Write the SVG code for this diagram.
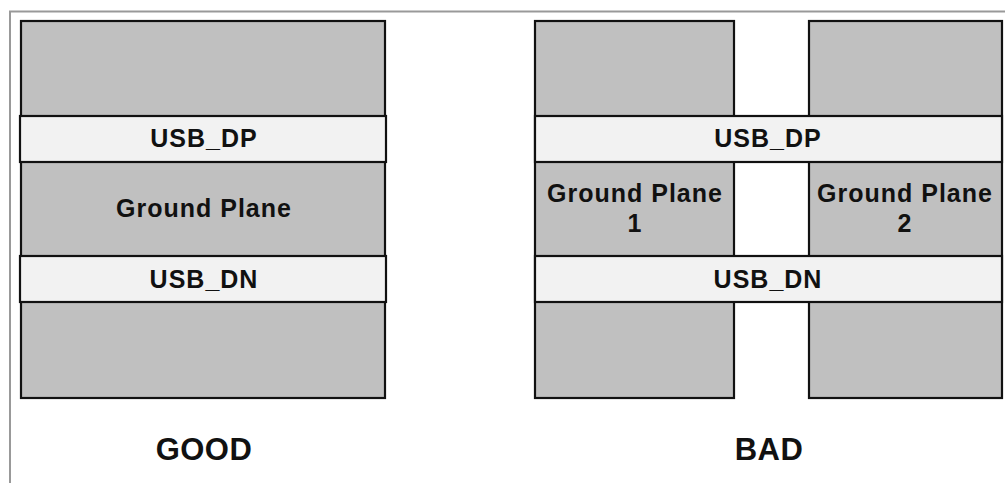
<svg xmlns="http://www.w3.org/2000/svg" width="1005" height="483" viewBox="0 0 1005 483">
<style>
.g{fill:#c0c0c0;stroke:#111;stroke-width:2.2}
.b{fill:#f2f2f2;stroke:#111;stroke-width:2.2}
.t{font-family:"Liberation Sans",Arial,sans-serif;font-weight:bold;font-size:25px;letter-spacing:1px;fill:#111;text-anchor:middle}
.h{font-family:"Liberation Sans",Arial,sans-serif;font-weight:bold;font-size:31px;letter-spacing:0.5px;fill:#111;text-anchor:middle}
</style>
<rect width="1005" height="483" fill="#fff"/>
<path d="M10 483 V11.5 H1005" fill="none" stroke="#999" stroke-width="2"/>
<g id="good">
<rect class="g" x="21" y="21" width="364" height="377"/>
<rect class="b" x="20" y="116" width="366" height="46"/>
<rect class="b" x="20" y="256" width="366" height="46"/>
<text class="t" x="204" y="147">USB_DP</text>
<text class="t" x="204" y="217">Ground Plane</text>
<text class="t" x="204" y="288">USB_DN</text>
<text class="h" x="204" y="460">GOOD</text>
</g>
<g id="bad">
<rect class="g" x="535" y="21" width="199" height="377"/>
<rect class="g" x="809" y="21" width="193" height="377"/>
<rect class="b" x="535" y="116" width="467" height="46"/>
<rect class="b" x="535" y="256" width="467" height="46"/>
<text class="t" x="768" y="147">USB_DP</text>
<text class="t" x="635" y="202">Ground Plane</text>
<text class="t" x="635" y="232">1</text>
<text class="t" x="905" y="202">Ground Plane</text>
<text class="t" x="905" y="232">2</text>
<text class="t" x="768" y="288">USB_DN</text>
<text class="h" x="769" y="460">BAD</text>
</g>
</svg>
